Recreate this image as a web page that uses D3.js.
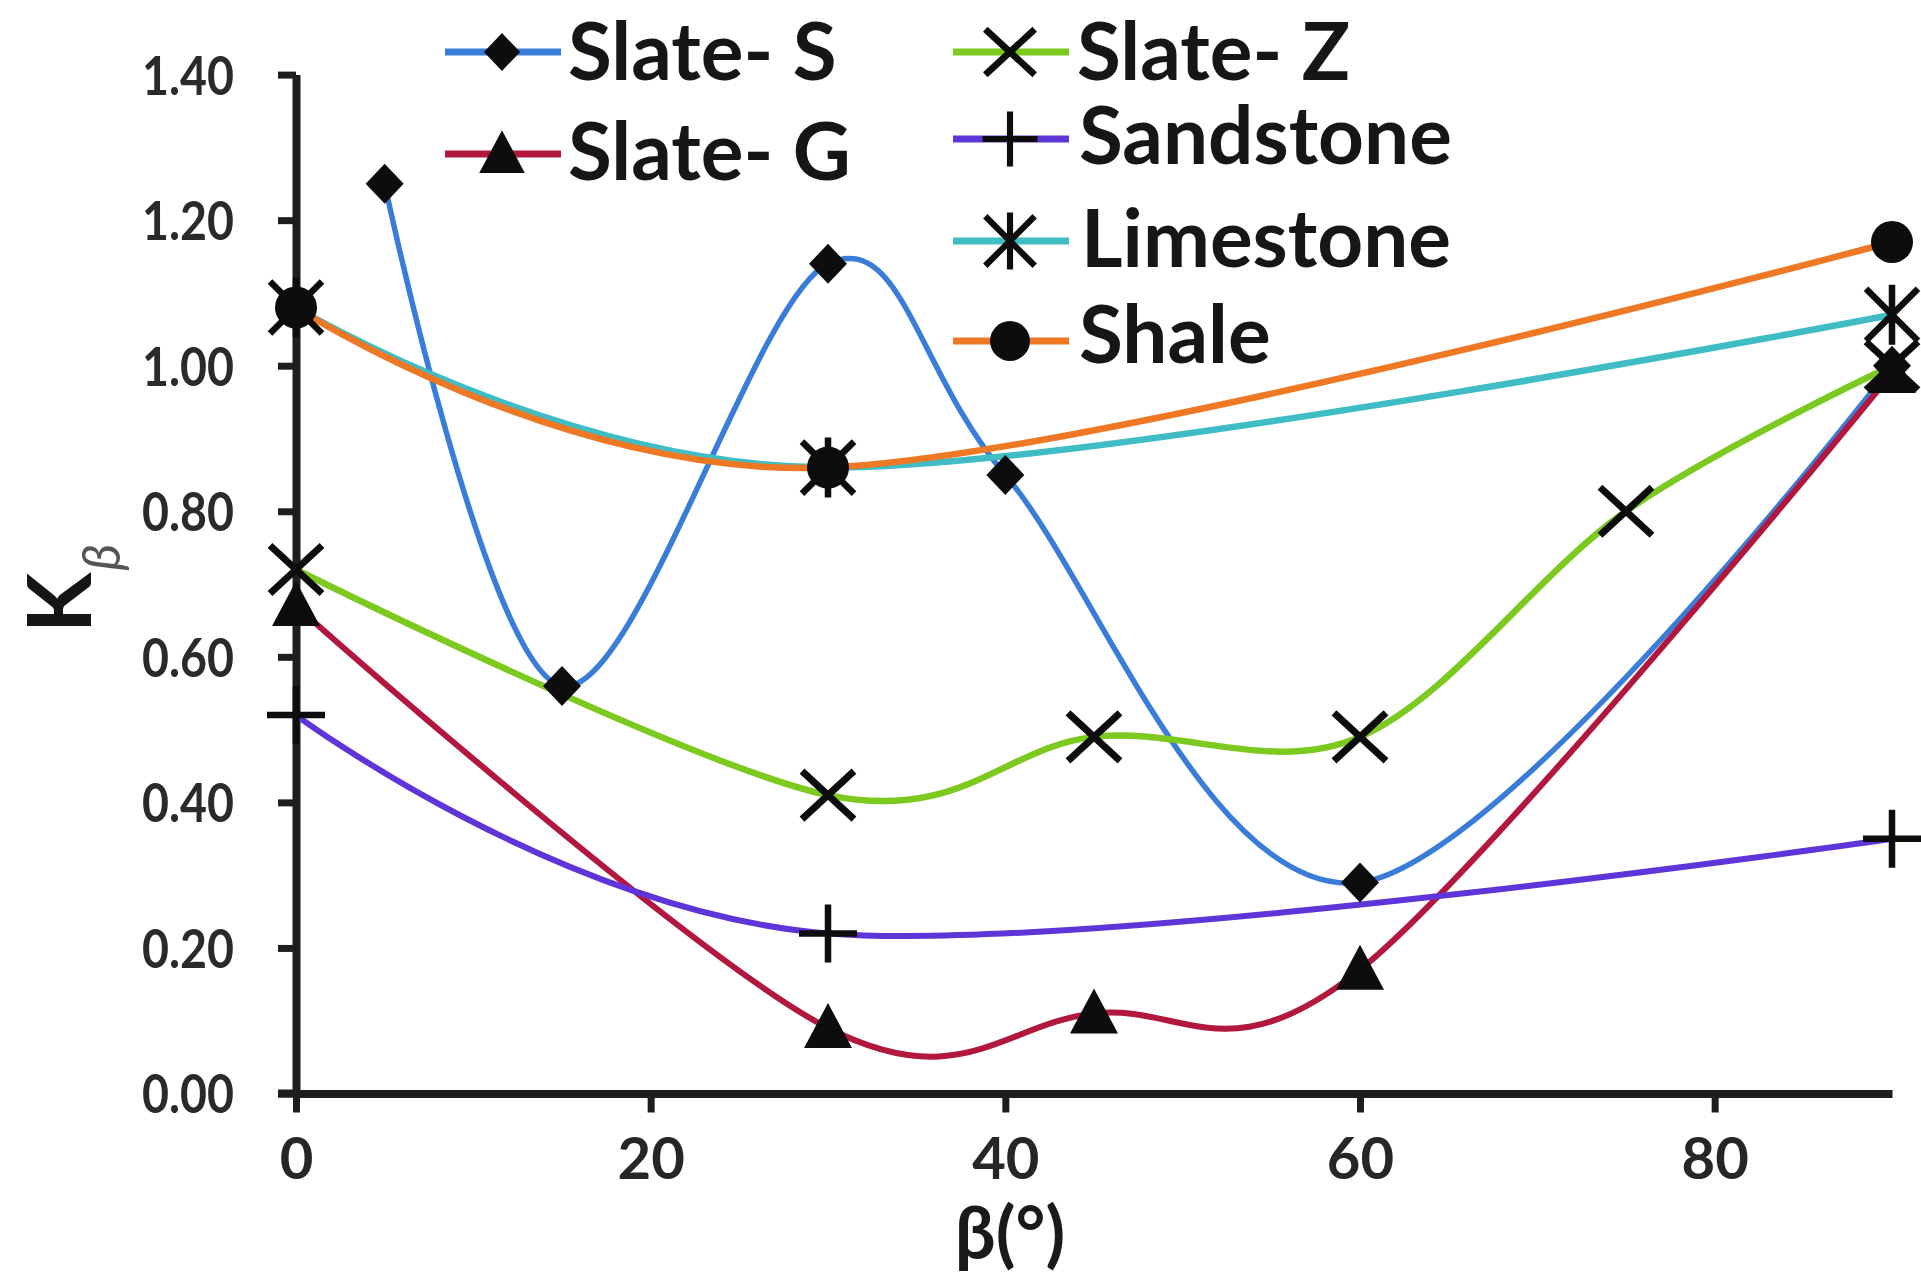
<!DOCTYPE html>
<html>
<head>
<meta charset="utf-8">
<script src="https://cdn.jsdelivr.net/npm/d3@7"></script>
<style>
  html, body { margin: 0; padding: 0; background: #fff; }
  svg { display: block; }
  text { font-family: Lato, "Open Sans", sans-serif; font-weight: 700; fill: #1c1c1c; }
</style>
</head>
<body>
<svg id="chart" width="1921" height="1275"></svg>
<script>
// K_beta versus bedding angle beta for six rock types
const seriesNames = ["Slate- S", "Slate- G", "Slate- Z", "Sandstone", "Limestone", "Shale"];

const slateS_beta = [5, 15, 30, 40, 60, 90];
const slateS_k    = [1.25, 0.56, 1.14, 0.85, 0.29, 1.00];

const slateG_beta = [0, 30, 45, 60, 90];
const slateG_k    = [0.67, 0.09, 0.11, 0.17, 0.99];

const slateZ_beta = [0, 30, 45, 60, 75, 90];
const slateZ_k    = [0.72, 0.41, 0.49, 0.49, 0.80, 1.00];

const sandstone_beta = [0, 30, 90];
const sandstone_k    = [0.52, 0.22, 0.35];

const limestone_beta = [0, 30, 90];
const limestone_k    = [1.08, 0.86, 1.07];

const shale_beta = [0, 30, 90];
const shale_k    = [1.08, 0.86, 1.17];

const xTicks = [0, 20, 40, 60, 80];
const yTicks = [0, 0.2, 0.4, 0.6, 0.8, 1.0, 1.2, 1.4];

const seriesColors  = ["#3a7dd8", "#b2173d", "#7cc920", "#5f34d8", "#3fbcc4", "#ef7825"];
const seriesMarkers = ["diamond", "triangle", "x", "plus", "star", "circle"];
const seriesWidths  = [5.5, 6, 6.5, 6, 6.5, 6.5];

const seriesData = [
  [slateS_beta, slateS_k], [slateG_beta, slateG_k], [slateZ_beta, slateZ_k],
  [sandstone_beta, sandstone_k], [limestone_beta, limestone_k], [shale_beta, shale_k]
].map(([b, k], i) => ({
  name: seriesNames[i],
  color: seriesColors[i],
  marker: seriesMarkers[i],
  width: seriesWidths[i],
  points: b.map((v, j) => ({ beta: v, k: k[j] }))
}));

const svg = d3.select("#chart");

const x = d3.scaleLinear().domain([0, 90]).range([296, 1892]);
const y = d3.scaleLinear().domain([0, 1.4]).range([1093.5, 74.6]);

// ---- axes ----
const axisColor = "#1e1e1e";

const yAxis = svg.append("g")
  .attr("transform", `translate(${x(0)},0)`)
  .call(d3.axisLeft(y).tickValues(yTicks).tickSize(18).tickSizeOuter(0)
        .tickFormat(d3.format(".2f")));
yAxis.select(".domain").attr("stroke", axisColor).attr("stroke-width", 8);
yAxis.selectAll(".tick line").attr("stroke", axisColor).attr("stroke-width", 7);
yAxis.selectAll(".tick text")
  .attr("x", -62).attr("dy", "0.36em")
  .attr("text-anchor", "end")
  .attr("textLength", 92).attr("lengthAdjust", "spacingAndGlyphs")
  .style("font-size", "54px").style("fill", "#2a2a2a").style("font-family", "Lato, sans-serif");

const xAxis = svg.append("g")
  .attr("transform", `translate(0,${y(0)})`)
  .call(d3.axisBottom(x).tickValues(xTicks).tickSize(19).tickSizeOuter(0)
        .tickFormat(d3.format("d")));
xAxis.select(".domain").attr("stroke", axisColor).attr("stroke-width", 8);
xAxis.selectAll(".tick line").attr("stroke", axisColor).attr("stroke-width", 7);
xAxis.selectAll(".tick text")
  .attr("y", 85.5).attr("dy", 0)
  .style("font-size", "58px").style("fill", "#262626").style("font-family", "Lato, sans-serif");
// extend the x axis line back under the y axis ticks
xAxis.append("line").attr("x1", x(0) - 18).attr("x2", x(0)).attr("y1", 0).attr("y2", 0)
  .attr("stroke", axisColor).attr("stroke-width", 8);

// axis titles
const yTitle = svg.append("text")
  .attr("transform", "translate(91,633) rotate(-90)")
  .style("font-size", "88px").style("fill", "#151515");
yTitle.append("tspan").text("K");
yTitle.append("tspan").text("β")
  .attr("dy", 29).attr("dx", 2)
  .style("font-size", "52px").style("font-style", "italic").style("font-weight", 400)
  .style("fill", "#555");

svg.append("text")
  .attr("x", 1010).attr("y", 1259).attr("text-anchor", "middle")
  .style("font-size", "72px").style("fill", "#1a1a1a")
  .text("β(°)");

// ---- markers ----
function drawMarker(g, type, s) {
  // s scales the marker; all markers are black
  const k = "#0d0d0d";
  if (type === "diamond") {
    g.append("path").attr("d", `M0,${-20*s} L${19*s},0 L0,${20*s} L${-19*s},0 Z`).attr("fill", k);
  } else if (type === "triangle") {
    g.append("path").attr("d", `M0,${-25*s} L${24*s},${20*s} L${-24*s},${20*s} Z`).attr("fill", k);
  } else if (type === "circle") {
    g.append("circle").attr("r", 21 * s).attr("fill", k);
  } else if (type === "x") {
    const a = 26 * s, b = 24 * s;
    g.append("path").attr("d", `M${-a},${-b} L${a},${b} M${-a},${b} L${a},${-b}`)
      .attr("stroke", k).attr("stroke-width", 7 * s).attr("fill", "none");
  } else if (type === "plus") {
    const a = 29 * s;
    g.append("path").attr("d", `M${-a},0 L${a},0 M0,${-a} L0,${a}`)
      .attr("stroke", k).attr("stroke-width", 6.5 * s).attr("fill", "none");
  } else if (type === "star") {
    const a = 26 * s, v = 30 * s;
    g.append("path").attr("d", `M${-a},${-a} L${a},${a} M${-a},${a} L${a},${-a} M0,${-v} L0,${v}`)
      .attr("stroke", k).attr("stroke-width", 6.5 * s).attr("fill", "none");
  }
}

// ---- series: lines first, then markers (shale dots sit beneath the limestone stars) ----
const line = d3.line()
  .x(d => x(d.beta))
  .y(d => y(d.k))
  .curve(d3.curveCardinal.tension(0));

const lineLayer = svg.append("g");
const markerLayer = svg.append("g");

seriesData.forEach(s => {
  lineLayer.append("path")
    .attr("d", line(s.points))
    .attr("fill", "none")
    .attr("stroke", s.color)
    .attr("stroke-width", s.width)
    .attr("stroke-linejoin", "round");
});

const markerOrder = [5, 0, 1, 2, 3, 4];
markerOrder.forEach(i => {
  const s = seriesData[i];
  markerLayer.append("g").selectAll("g").data(s.points).join("g")
    .attr("transform", d => `translate(${x(d.beta)},${y(d.k)})`)
    .each(function() { drawMarker(d3.select(this), s.marker, 1); });
});

// ---- legend ----
const legendLayout = [
  { lx: 445, cx: 502, tx: 568, ly: 52,  ty: 80 },
  { lx: 445, cx: 502, tx: 568, ly: 154, ty: 180 },
  { lx: 953, cx: 1010, tx: 1077, ly: 52, ty: 80 },
  { lx: 953, cx: 1010, tx: 1079, ly: 139, ty: 164 },
  { lx: 953, cx: 1010, tx: 1081, ly: 241, ty: 267 },
  { lx: 953, cx: 1010, tx: 1079, ly: 341, ty: 363 }
];

const legend = svg.append("g");
seriesData.forEach((s, i) => {
  const p = legendLayout[i];
  const g = legend.append("g");
  g.append("line")
    .attr("x1", p.lx).attr("x2", p.lx + 116)
    .attr("y1", p.ly).attr("y2", p.ly)
    .attr("stroke", s.color).attr("stroke-width", 7);
  const m = g.append("g").attr("transform", `translate(${p.cx},${p.ly})`);
  drawMarker(m, s.marker, 0.95);
  g.append("text")
    .attr("x", p.tx).attr("y", p.ty)
    .style("font-size", "80px").style("fill", "#161616")
    .text(s.name);
});
</script>
</body>
</html>
